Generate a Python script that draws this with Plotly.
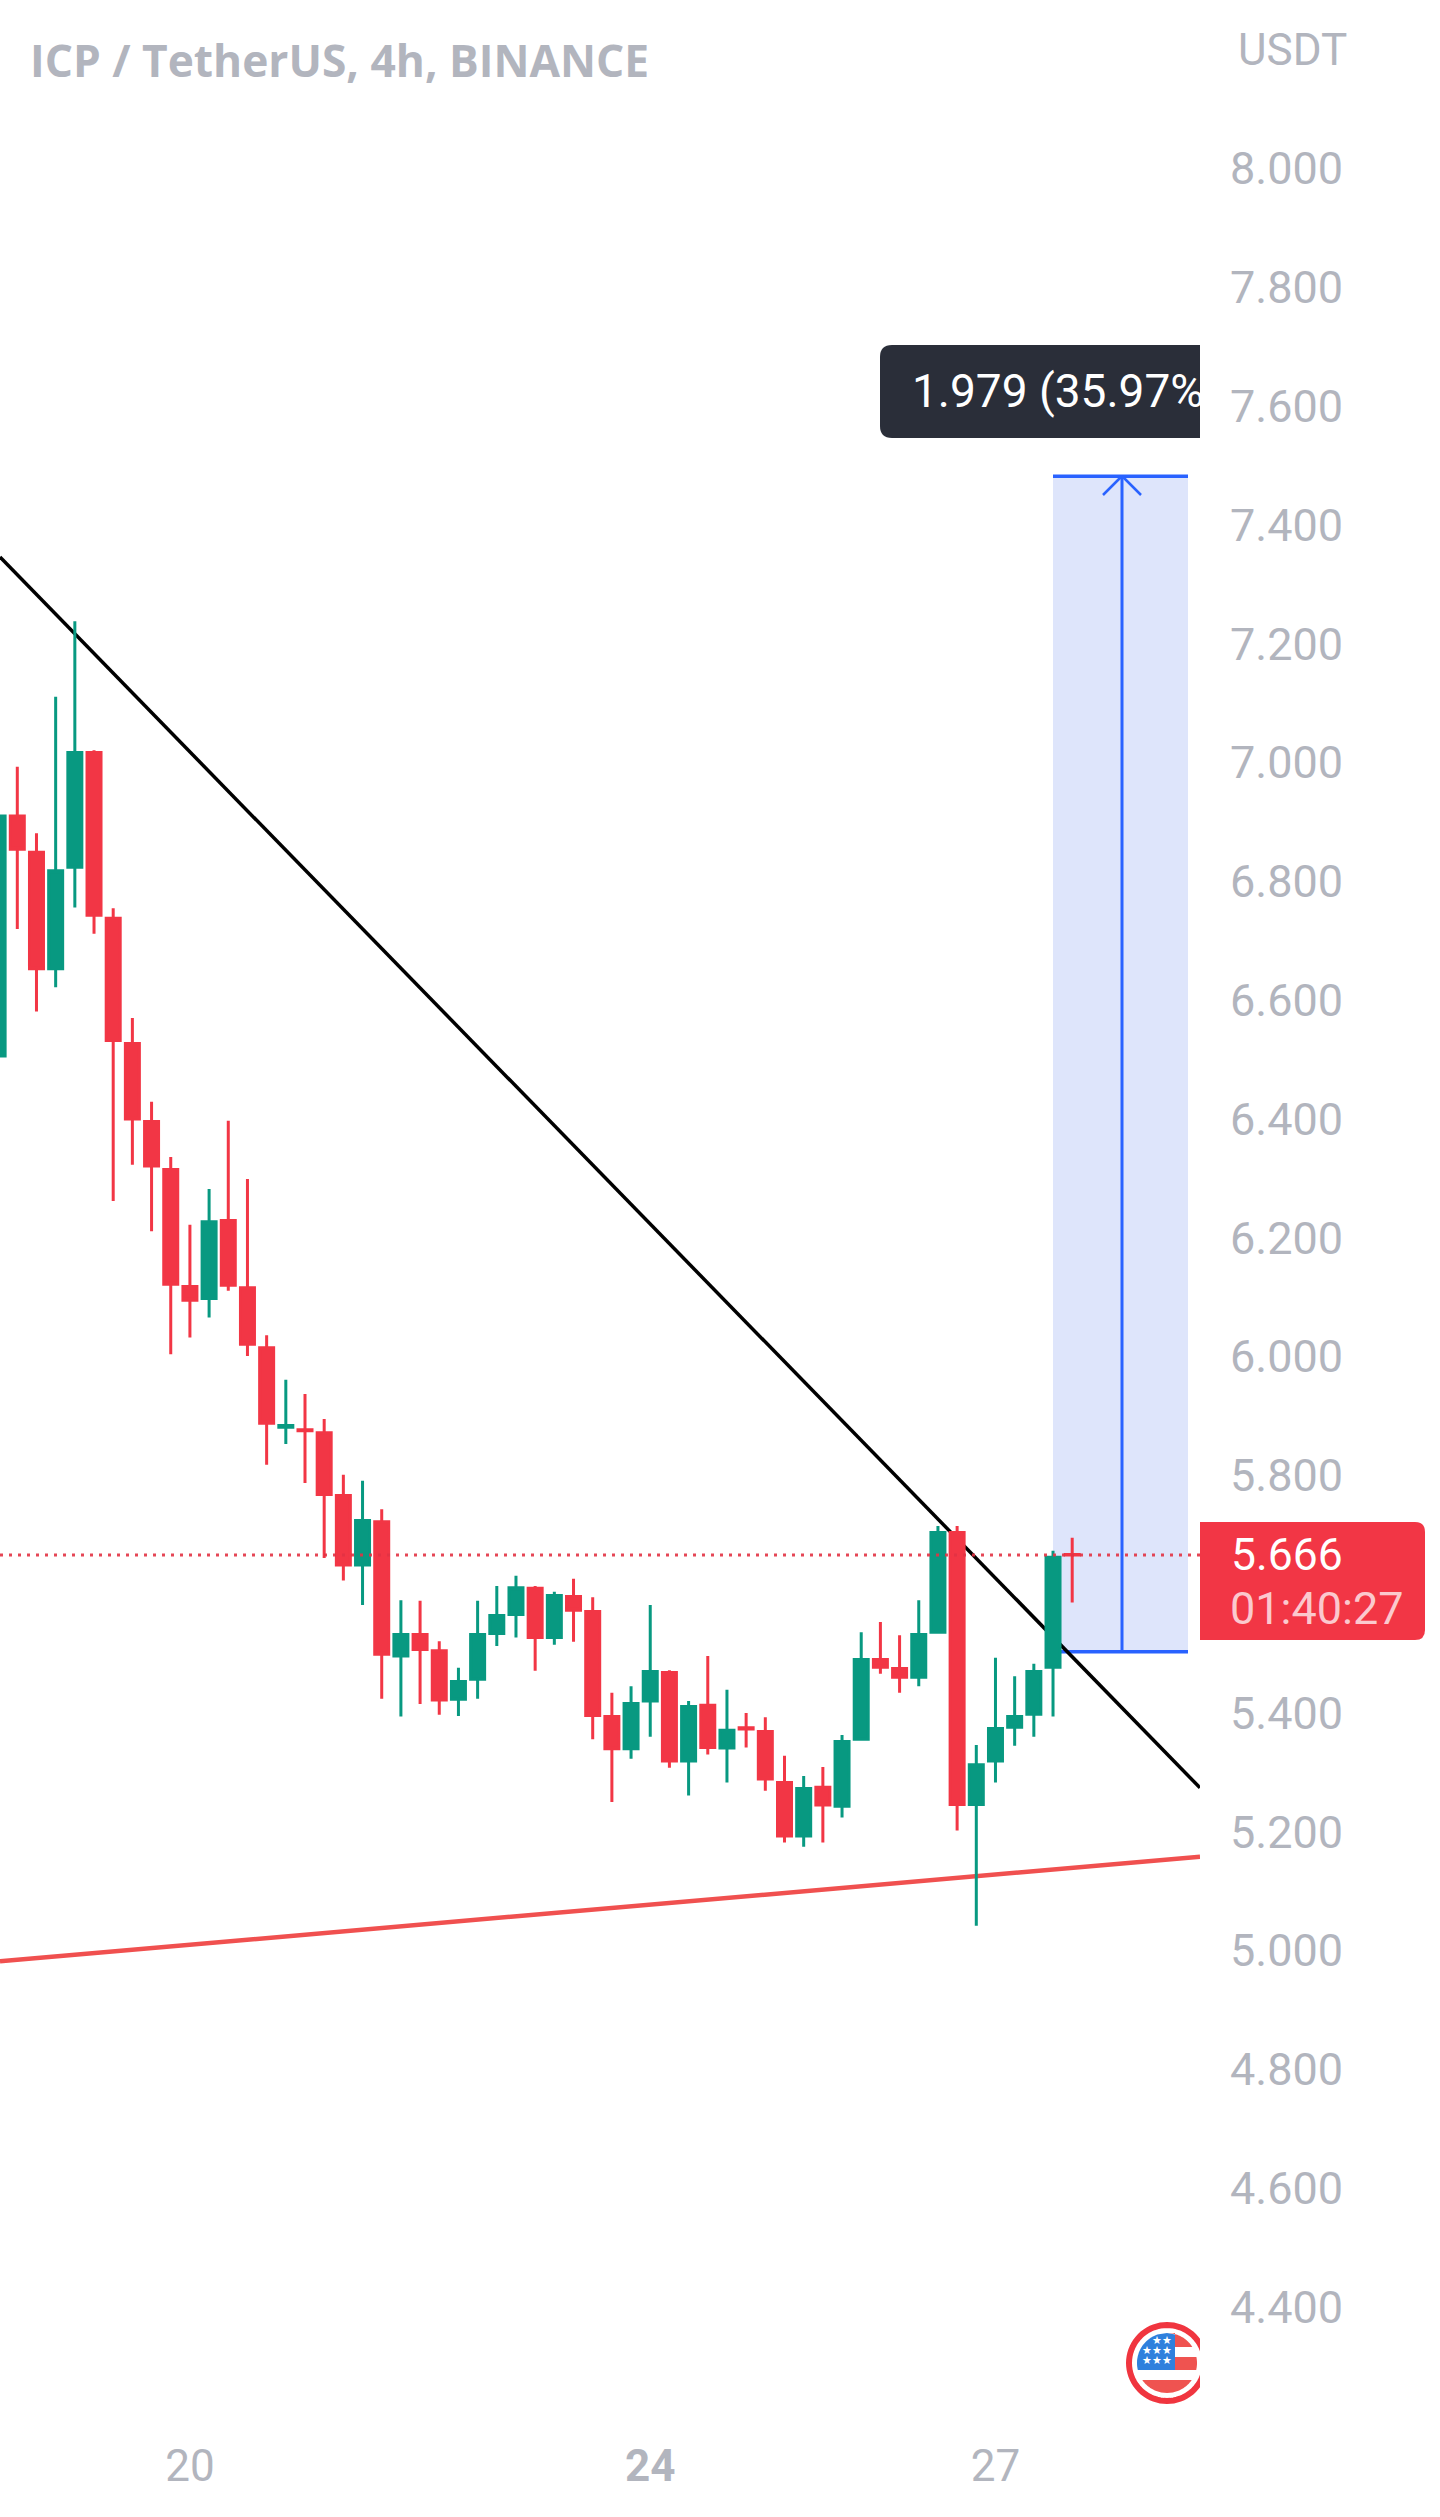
import numpy as np
import plotly.graph_objects as go

W, H = 1440, 2517
PLOT_W, PLOT_H = 1200, 2420

# ---- chart data -------------------------------------------------------
bar_index = list(range(57))
open_ = [6.506, 6.910, 6.849, 6.653, 6.824, 7.017, 6.738, 6.527, 6.396, 6.315, 6.118, 6.098, 6.229, 6.116, 6.015, 5.881,
         5.877, 5.872, 5.766, 5.649, 5.722, 5.496, 5.532, 5.505, 5.423, 5.457, 5.534, 5.566, 5.610, 5.527, 5.596, 5.571,
         5.394, 5.340, 5.420, 5.468, 5.319, 5.413, 5.341, 5.375, 5.369, 5.283, 5.193, 5.275, 5.243, 5.356, 5.490, 5.475,
         5.460, 5.536, 5.704, 5.246, 5.319, 5.376, 5.398, 5.477, 5.667]
high = [6.971, 6.993, 6.881, 7.111, 7.238, 7.021, 6.755, 6.570, 6.429, 6.336, 6.222, 6.282, 6.397, 6.299, 6.036, 5.961,
        5.937, 5.895, 5.801, 5.791, 5.743, 5.590, 5.589, 5.521, 5.476, 5.589, 5.614, 5.631, 5.614, 5.604, 5.626, 5.595,
        5.434, 5.445, 5.582, 5.472, 5.420, 5.496, 5.439, 5.400, 5.393, 5.328, 5.294, 5.309, 5.363, 5.536, 5.553, 5.531,
        5.590, 5.715, 5.715, 5.346, 5.493, 5.462, 5.483, 5.673, 5.695]
low = [6.474, 6.720, 6.581, 6.622, 6.756, 6.712, 6.262, 6.323, 6.211, 6.004, 6.032, 6.066, 6.111, 6.001, 5.818, 5.853,
       5.787, 5.661, 5.623, 5.582, 5.424, 5.394, 5.415, 5.397, 5.395, 5.424, 5.513, 5.527, 5.471, 5.515, 5.520, 5.356,
       5.250, 5.323, 5.360, 5.308, 5.261, 5.330, 5.283, 5.342, 5.269, 5.182, 5.175, 5.182, 5.224, 5.356, 5.466, 5.434,
       5.445, 5.536, 5.202, 5.042, 5.283, 5.345, 5.360, 5.394, 5.586]
close = [6.910, 6.854, 6.653, 6.818, 7.017, 6.743, 6.532, 6.400, 6.321, 6.122, 6.095, 6.227, 6.120, 6.021, 5.888, 5.884,
         5.875, 5.768, 5.649, 5.724, 5.499, 5.532, 5.507, 5.422, 5.453, 5.532, 5.564, 5.611, 5.527, 5.598, 5.573, 5.396,
         5.340, 5.416, 5.470, 5.319, 5.411, 5.342, 5.371, 5.373, 5.289, 5.193, 5.273, 5.245, 5.352, 5.490, 5.477, 5.460,
         5.532, 5.704, 5.246, 5.313, 5.374, 5.394, 5.470, 5.662, 5.666]

x_tick_vals = [10, 34, 52]
x_tick_text = ["20", "<b>24</b>", "27"]
y_tick_vals = [8.0, 7.8, 7.6, 7.4, 7.2, 7.0, 6.8, 6.6, 6.4, 6.2, 6.0, 5.8, 5.4, 5.2, 5.0, 4.8, 4.6, 4.4]
y_tick_text = ["8.000", "7.800", "7.600", "7.400", "7.200", "7.000", "6.800", "6.600", "6.400", "6.200", "6.000",
               "5.800", "5.400", "5.200", "5.000", "4.800", "4.600", "4.400"]

last_price = 5.666
measure_low, measure_high = 5.503, 7.482
resistance_prices = [7.346, 5.274]
support_prices = [4.982, 5.158]

# ---- styles / scales ---------------------------------------------------
GREEN, RED, BLUE, GREY = "#089981", "#f23645", "#2962ff", "#b2b5be"
FONT = "Roboto"
BAR_STEP = 19.18
BAR0_PX = 17.3 - BAR_STEP
Y_PER_UNIT = 594.0


def px2x(px):
    return (px - BAR0_PX) / BAR_STEP


def py2y(py):
    return 5.4 + (1713 - py) / Y_PER_UNIT


x_range = [px2x(0), px2x(PLOT_W)]
y_range = [py2y(PLOT_H), py2y(0)]
measure_x0, measure_x1, measure_xc = px2x(1053), px2x(1188), px2x(1122)

shapes = []


def add_line(x0, y0, x1, y1, color, width):
    shapes.append(dict(type="line", xref="x", yref="y", x0=x0, y0=y0, x1=x1, y1=y1, layer="between",
                       line=dict(color=color, width=width)))


# measured move
shapes.append(dict(type="rect", xref="x", yref="y", x0=measure_x0, x1=measure_x1, y0=measure_low, y1=measure_high,
                   layer="between", fillcolor="#dee5fb", line=dict(width=0)))
add_line(measure_x0, measure_high, measure_x1, measure_high, BLUE, 3.5)
add_line(measure_x0, measure_low, measure_x1, measure_low, BLUE, 3.5)
add_line(measure_xc, measure_low, measure_xc, measure_high, BLUE, 3)
tip = py2y(476)
add_line(px2x(1103), py2y(495), measure_xc, tip, BLUE, 2.5)
add_line(px2x(1141), py2y(495), measure_xc, tip, BLUE, 2.5)

# trend lines
add_line(x_range[0], resistance_prices[0], x_range[1], resistance_prices[1], "#000000", 3.5)
add_line(x_range[0], support_prices[0], x_range[1], support_prices[1], "#f0504f", 4.5)


def pts_path(pts, close_path=True):
    s = "M" + " L".join(f"{px2x(a):.4f},{py2y(b):.5f}" for a, b in pts)
    return s + (" Z" if close_path else "")


# dark measure label (clipped by the plot area on its right side)
bx0, bx1, by0, by1, rad = 880, 1240, 345, 438, 12
label_path = (f"M{px2x(bx0 + rad):.4f},{py2y(by0):.5f} L{px2x(bx1):.4f},{py2y(by0):.5f} "
              f"L{px2x(bx1):.4f},{py2y(by1):.5f} L{px2x(bx0 + rad):.4f},{py2y(by1):.5f} "
              f"Q{px2x(bx0):.4f},{py2y(by1):.5f} {px2x(bx0):.4f},{py2y(by1 - rad):.5f} "
              f"L{px2x(bx0):.4f},{py2y(by0 + rad):.5f} "
              f"Q{px2x(bx0):.4f},{py2y(by0):.5f} {px2x(bx0 + rad):.4f},{py2y(by0):.5f} Z")
shapes.append(dict(type="path", xref="x", yref="y", path=label_path, fillcolor="#2a2e39", line=dict(width=0),
                   layer="between"))

# flag badge
cx, cy = 1167, 2363


def circle_path(r):
    t = np.linspace(0, 2 * np.pi, 73)[:-1]
    return pts_path([(cx + r * np.cos(a), cy + r * np.sin(a)) for a in t])


def clipped(r, xl, xr, y0, y1):
    ys = np.linspace(y0, y1, 24)
    half = np.sqrt(np.maximum(r * r - (ys - cy) ** 2, 0))
    right = [(min(xr, cx + h), y) for h, y in zip(half, ys)]
    left = [(max(xl, cx - h), y) for h, y in zip(half, ys)]
    return pts_path(right + left[::-1])


R = 30
shapes.append(dict(type="path", xref="x", yref="y", path=circle_path(38), fillcolor="#ffffff",
                   line=dict(color="#f0353f", width=6), layer="between"))
for (xl, xr, y0, y1, col) in [(1175, 1300, 2333, 2347, "#ef5350"), (1175, 1300, 2357, 2370, "#ef5350"),
                              (1000, 1300, 2380, 2393, "#ef5350"), (1000, 1175, 2333, 2370, "#2f80dd")]:
    shapes.append(dict(type="path", xref="x", yref="y", path=clipped(R, xl, xr, y0, y1), fillcolor=col,
                       line=dict(width=0), layer="between"))


def p_x(px):
    return px / PLOT_W


def p_y(py):
    return 1 - py / PLOT_H


# price tag (outside the plot area)
tx0, tx1, ty0, ty1, tr = 1200, 1425, 1522, 1640, 10
tag_path = (f"M{p_x(tx0):.5f},{p_y(ty0):.5f} L{p_x(tx1 - tr):.5f},{p_y(ty0):.5f} "
            f"Q{p_x(tx1):.5f},{p_y(ty0):.5f} {p_x(tx1):.5f},{p_y(ty0 + tr):.5f} "
            f"L{p_x(tx1):.5f},{p_y(ty1 - tr):.5f} "
            f"Q{p_x(tx1):.5f},{p_y(ty1):.5f} {p_x(tx1 - tr):.5f},{p_y(ty1):.5f} "
            f"L{p_x(tx0):.5f},{p_y(ty1):.5f} Z")
shapes.append(dict(type="path", xref="paper", yref="paper", path=tag_path, fillcolor=RED, line=dict(width=0),
                   layer="above"))

fig = go.Figure()
fig.add_trace(go.Candlestick(
    x=bar_index, open=open_, high=high, low=low, close=close, whiskerwidth=0, hoverinfo="skip",
    increasing=dict(line=dict(color=GREEN, width=3), fillcolor=GREEN),
    decreasing=dict(line=dict(color=RED, width=3), fillcolor=RED), showlegend=False))

# dotted last-price line
fig.add_trace(go.Scatter(x=x_range, y=[last_price, last_price], mode="lines", hoverinfo="skip", showlegend=False,
                         line=dict(color="rgba(226,50,66,0.9)", width=3, dash="3px,6px")))

# clipped measure text
fig.add_trace(go.Scatter(x=[px2x(912)], y=[py2y(395)], mode="text", text=["1.979 (35.97%)"],
                         textposition="middle right", hoverinfo="skip", showlegend=False,
                         textfont=dict(family=FONT, size=46, color="#ffffff")))

# flag stars
star_x = [px2x(a) for a in [1157, 1167, 1147, 1157, 1167, 1147, 1157, 1167]]
star_y = [py2y(b) for b in [2341, 2341, 2351, 2351, 2351, 2361, 2361, 2361]]
fig.add_trace(go.Scatter(x=star_x, y=star_y, mode="text", text=["★"] * 8, textposition="middle center",
                         hoverinfo="skip", showlegend=False,
                         textfont=dict(family="DejaVu Sans", size=11, color="#ffffff")))

annotations = [
    dict(text="<b>ICP / TetherUS, 4h, BINANCE</b>", xref="paper", yref="paper", x=p_x(28), y=p_y(60),
         xanchor="left", yanchor="middle", showarrow=False, font=dict(family="Open Sans", size=44.3, color=GREY)),
    dict(text="USDT", xref="paper", yref="paper", x=p_x(1236), y=p_y(50), xanchor="left", yanchor="middle",
         showarrow=False, font=dict(family=FONT, size=44, color=GREY)),
    dict(text="5.666", xref="paper", yref="paper", x=p_x(1229), y=p_y(1555), xanchor="left", yanchor="middle",
         showarrow=False, font=dict(family=FONT, size=44.5, color="#ffffff")),
    dict(text="01:40:27", xref="paper", yref="paper", x=p_x(1228), y=p_y(1608), xanchor="left", yanchor="middle",
         showarrow=False, font=dict(family=FONT, size=45, color="#fbc9ce")),
]

fig.update_layout(
    width=W, height=H, autosize=False,
    margin=dict(l=0, r=W - PLOT_W, t=0, b=H - PLOT_H, pad=0),
    paper_bgcolor="#ffffff", plot_bgcolor="#ffffff",
    showlegend=False, shapes=shapes, annotations=annotations,
    boxmode="overlay", boxgap=0.27, boxgroupgap=0,
    xaxis=dict(range=x_range, rangeslider=dict(visible=False), showgrid=False, zeroline=False, showline=False,
               ticks="", tickmode="array", tickvals=x_tick_vals, ticktext=x_tick_text, tickangle=0,
               ticklabelstandoff=16, tickfont=dict(family=FONT, size=44, color=GREY)),
    yaxis=dict(range=y_range, side="right", showgrid=False, zeroline=False, showline=False, ticks="",
               tickmode="array", tickvals=y_tick_vals, ticktext=y_tick_text,
               ticklabelstandoff=29, tickfont=dict(family=FONT, size=45, color=GREY)),
)
fig.write_html("out.html", config=dict(displayModeBar=False),
               post_script="document.body.style.margin='0';document.documentElement.style.margin='0';")
